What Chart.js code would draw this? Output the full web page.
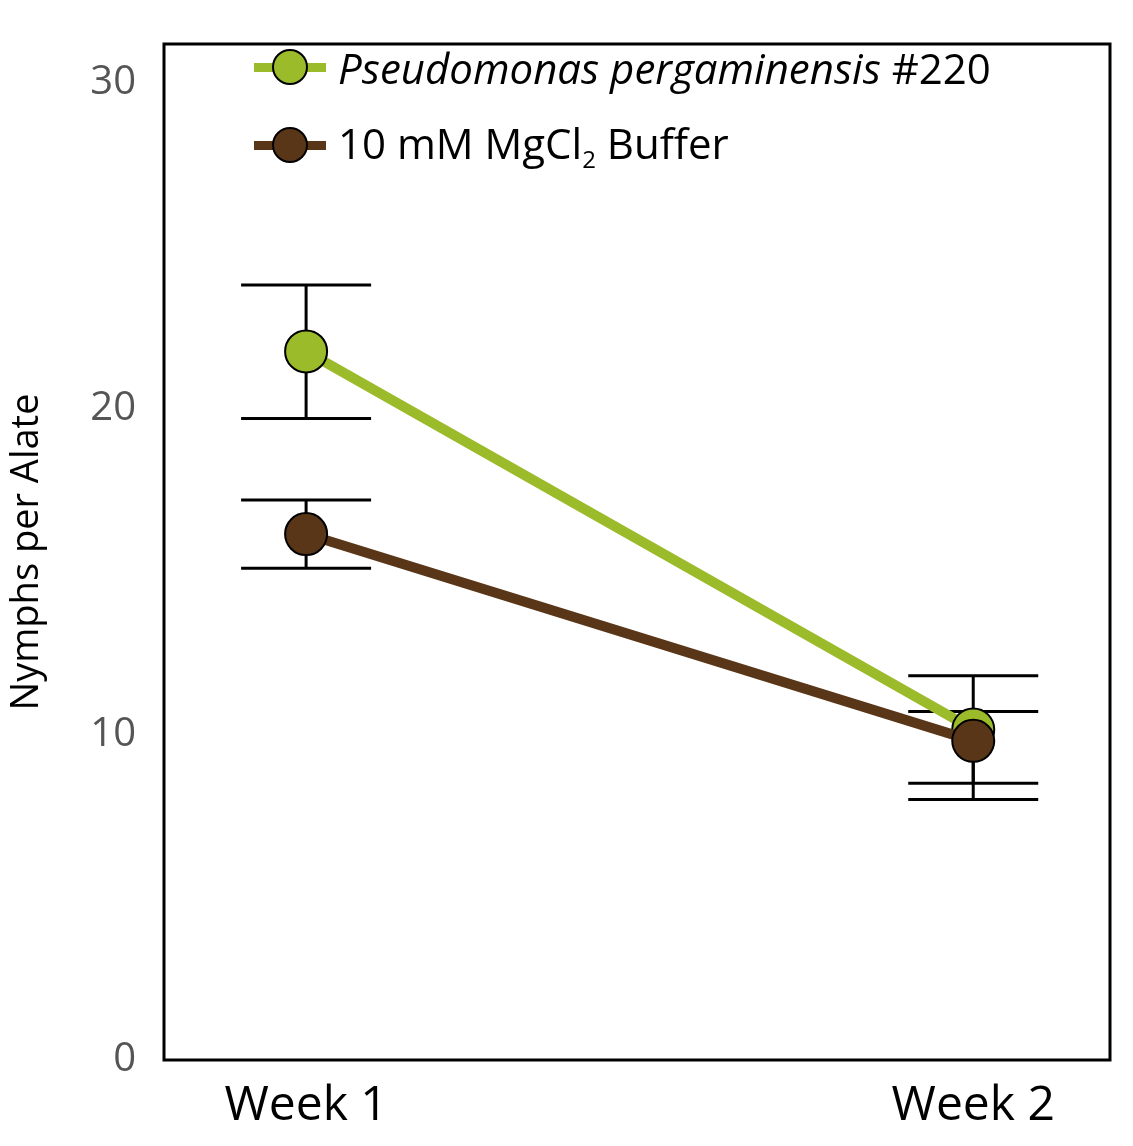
<!DOCTYPE html>
<html><head><meta charset="utf-8">
<script src="https://cdn.jsdelivr.net/npm/chart.js@4"></script>
<style>
body{margin:0;background:#fff;font-family:"Open Sans",sans-serif}
#wrap{position:relative;width:1133px;height:1146px}
#legend{position:absolute;left:250px;top:28px;font-size:42px;color:#000;font-family:"Open Sans",sans-serif}
.row{display:flex;align-items:center;height:78px}
.sym{position:relative;width:80px;height:40px;margin-right:8px}
.sym .ln{position:absolute;left:4px;right:4px;top:16px;height:9px}
.sym .dot{position:absolute;left:22px;top:2px;width:32px;height:32px;border-radius:50%;border:2px solid #000}
</style></head><body>
<div id="wrap"><canvas id="c" width="1133" height="1146"></canvas>
<div id="legend">
<div class="row"><div class="sym"><div class="ln" style="background:#9bbb2a"></div><div class="dot" style="background:#9bbb2a"></div></div><span><i>Pseudomonas pergaminensis</i> #220</span></div>
<div class="row"><div class="sym"><div class="ln" style="background:#5a3618"></div><div class="dot" style="background:#5a3618"></div></div><span>10 mM MgCl<sub style="font-size:24px">2</sub> Buffer</span></div>
</div></div>
<script>
const categories=["Week 1","Week 2"];
const pseudo=[21.76,10.15], pseudoHi=[23.8,11.8], pseudoLo=[19.7,8.5];
const buffer=[16.15,9.8], bufferHi=[17.2,10.7], bufferLo=[15.1,8.0];
const yTicks=[0,10,20,30];
const errPlugin={id:'err',beforeDatasetsDraw(ch){
 const x=ch.scales.x,y=ch.scales.y,c=ch.ctx;c.save();c.strokeStyle='#000';c.lineWidth=3;
 [[pseudoHi,pseudoLo],[bufferHi,bufferLo]].forEach(([h,l])=>{h.forEach((v,i)=>{const px=x.getPixelForValue(i);
 const a=y.getPixelForValue(v),b=y.getPixelForValue(l[i]);c.beginPath();c.moveTo(px,a);c.lineTo(px,b);
 c.moveTo(px-65,a);c.lineTo(px+65,a);c.moveTo(px-65,b);c.lineTo(px+65,b);c.stroke();});});
 const a=ch.chartArea;c.lineWidth=3;c.strokeRect(a.left,a.top,a.right-a.left,a.bottom-a.top);c.restore();}};
new Chart(document.getElementById('c'),{type:'line',
data:{datasets:[
{data:pseudo.map((v,i)=>({x:i,y:v})),borderColor:'#9bbb2a',backgroundColor:'#9bbb2a',borderWidth:10,pointRadius:21,pointBorderColor:'#000',pointBorderWidth:2},
{data:buffer.map((v,i)=>({x:i,y:v})),borderColor:'#5a3618',backgroundColor:'#5a3618',borderWidth:10,pointRadius:21,pointBorderColor:'#000',pointBorderWidth:2}].reverse()},
options:{responsive:false,animation:false,layout:{padding:{top:-37,right:-9}},
plugins:{legend:{display:false},tooltip:{enabled:false}},
scales:{x:{type:'linear',min:-0.213,max:1.205,grid:{display:false},border:{display:false},
 afterBuildTicks(s){s.ticks=[{value:0},{value:1}]},afterFit(s){s.height=86},
 ticks:{callback:v=>categories[v],color:'#000',font:{size:48,family:'"Open Sans",sans-serif'},padding:10}},
y:{min:0,max:31.2,grid:{display:false},border:{display:false},afterBuildTicks(s){s.ticks=yTicks.map(v=>({value:v}))},
 afterFit(s){s.width=164},ticks:{color:'#555',font:{size:40,family:'"Open Sans",sans-serif'},padding:20},
 title:{display:true,text:'Nymphs per Alate',color:'#000',font:{size:38,family:'"Open Sans",sans-serif'}}}}},
plugins:[errPlugin]});
</script></body></html>
